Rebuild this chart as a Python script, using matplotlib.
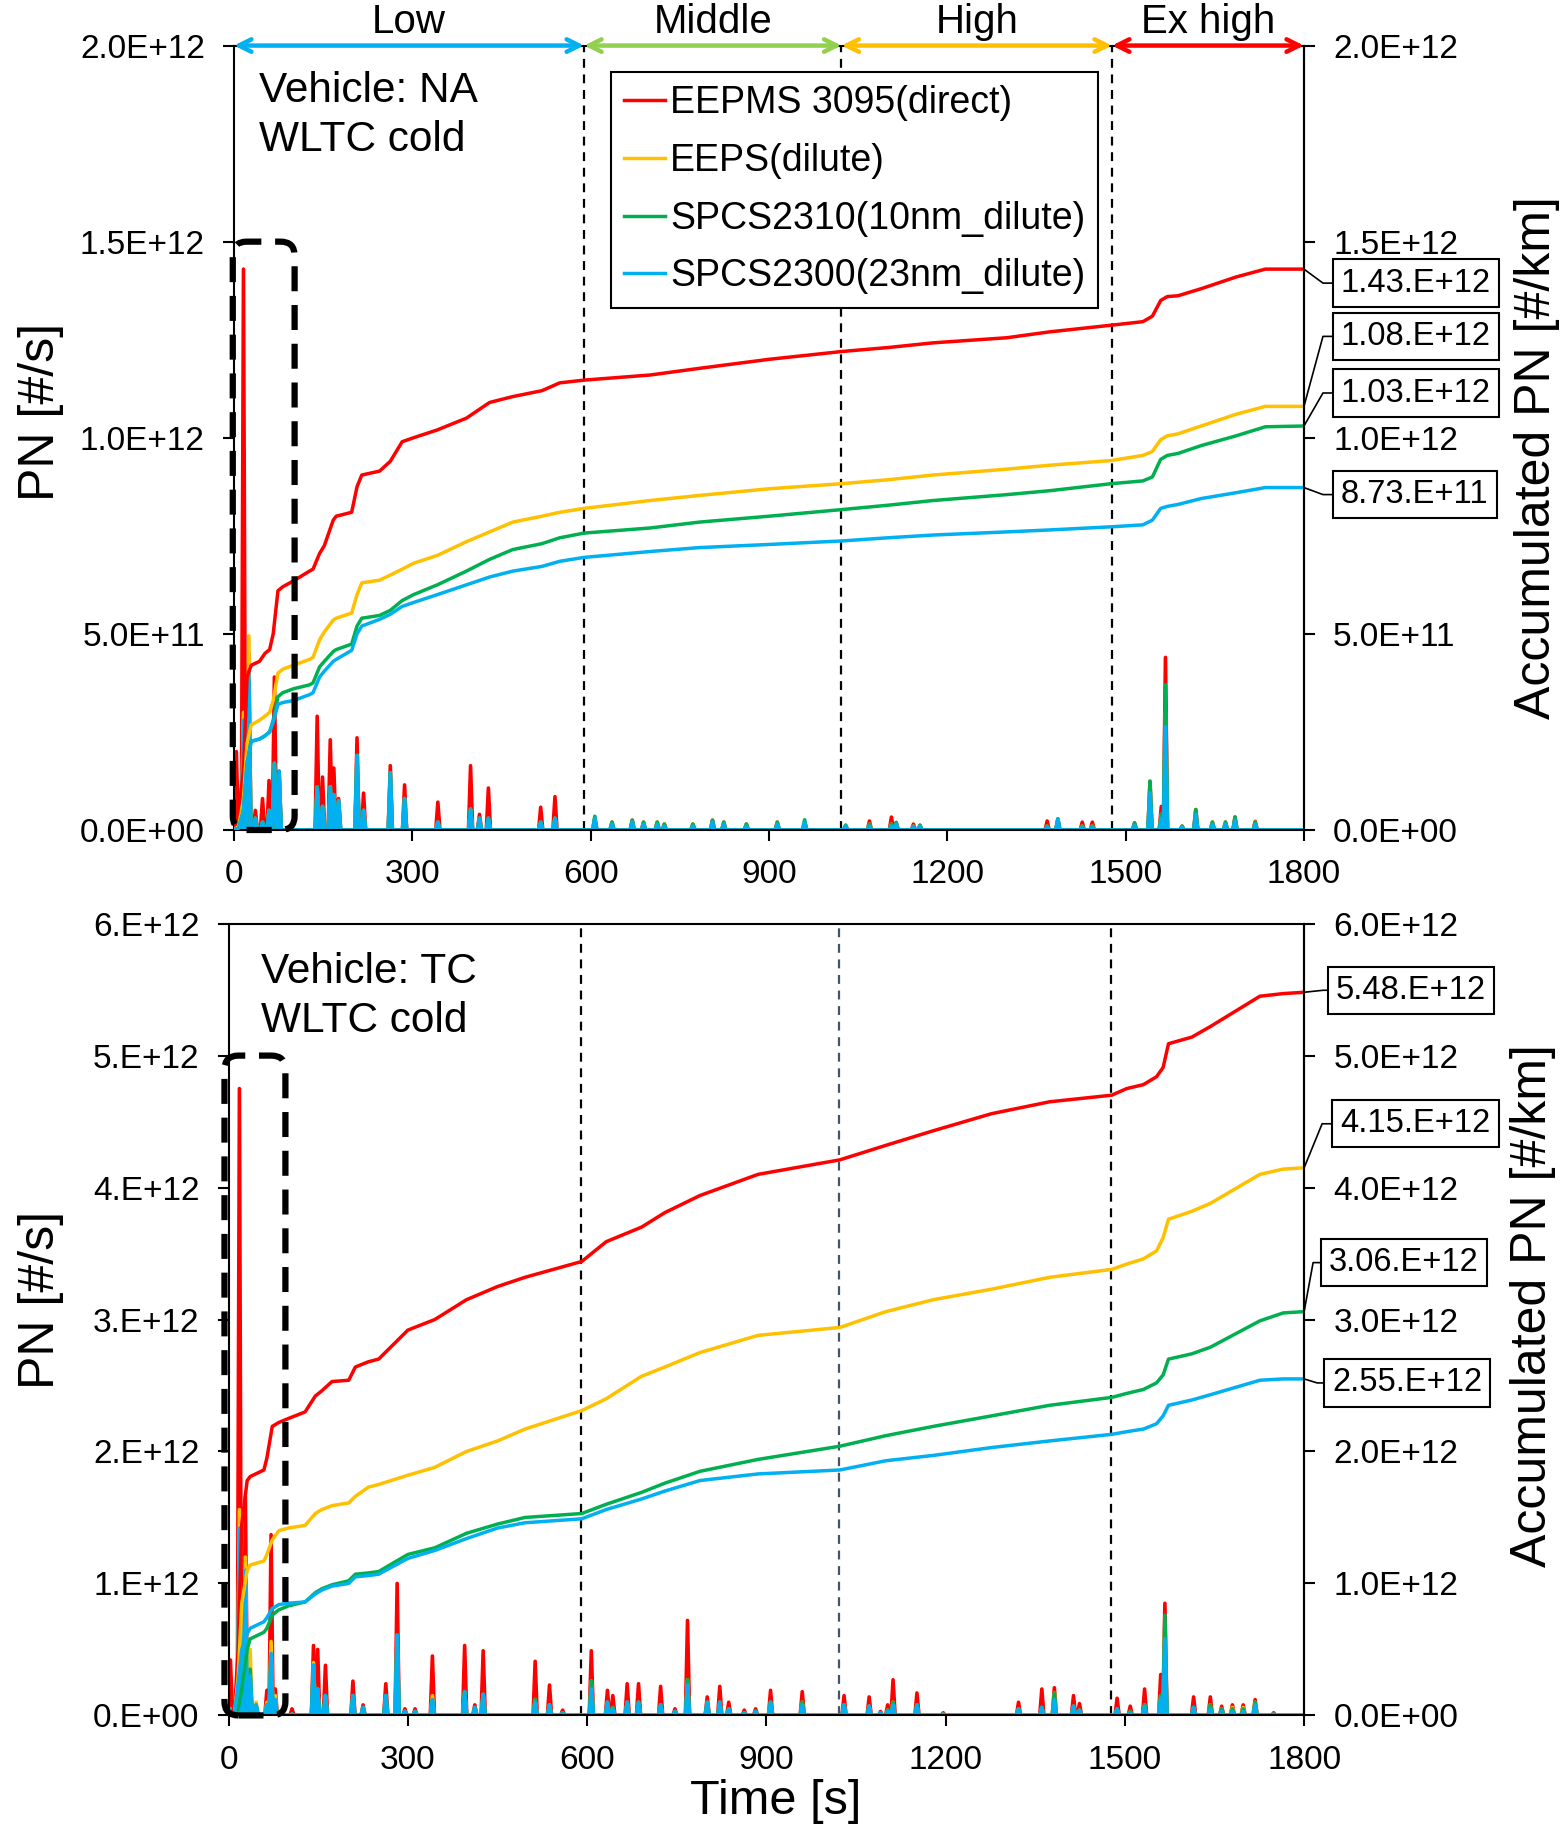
import numpy as np
import matplotlib
matplotlib.use("Agg")
import matplotlib.pyplot as plt
from matplotlib.patches import FancyBboxPatch
from matplotlib.lines import Line2D
from matplotlib.transforms import IdentityTransform, blended_transform_factory
from matplotlib.ticker import FuncFormatter, MultipleLocator

plt.rcParams['font.family'] = ['Liberation Sans', 'DejaVu Sans']

#************************************************
series_names = ['EEPMS 3095(direct)', 'EEPS(dilute)',
                'SPCS2310(10nm_dilute)', 'SPCS2300(23nm_dilute)']
series_colors = ['#FF0000', '#FFC000', '#00B050', '#00B0F0']

phase_names = ['Low', 'Middle', 'High', 'Ex high']
phase_bounds = [0, 589, 1022, 1477, 1800]
phase_colors = ['#00B0F0', '#92D050', '#FFC000', '#FF0000']
#************************************************

# Vehicle NA, accumulated PN [1E12 #/km]
na_cum_t = [0, 8, 16, 22, 29, 43, 52, 60, 66, 74,
            82, 100, 127, 133, 144, 152, 167, 172, 198, 207,
            215, 245, 263, 283, 302, 342, 391, 430, 469, 518,
            548, 589, 700, 783, 900, 1023, 1100, 1176, 1300, 1372,
            1476, 1529, 1545, 1559, 1570, 1588, 1627, 1686, 1735, 1800]
na_cum_red = [0, 0.05, 0.15, 0.39, 0.42, 0.43, 0.45, 0.46, 0.50, 0.61,
              0.62, 0.635, 0.66, 0.665, 0.705, 0.725, 0.79, 0.80, 0.81, 0.875,
              0.905, 0.915, 0.94, 0.99, 1.00, 1.02, 1.05, 1.09, 1.105, 1.12,
              1.14, 1.147, 1.16, 1.177, 1.20, 1.22, 1.23, 1.242, 1.255, 1.27,
              1.287, 1.296, 1.31, 1.35, 1.36, 1.362, 1.38, 1.41, 1.43, 1.43]
na_cum_yel = [0, 0.01, 0.08, 0.22, 0.268, 0.28, 0.29, 0.30, 0.33, 0.40,
              0.41, 0.42, 0.435, 0.44, 0.485, 0.505, 0.535, 0.54, 0.553, 0.60,
              0.63, 0.637, 0.65, 0.665, 0.68, 0.70, 0.735, 0.76, 0.785, 0.80,
              0.81, 0.82, 0.84, 0.853, 0.87, 0.883, 0.893, 0.905, 0.92, 0.93,
              0.942, 0.955, 0.965, 0.995, 1.005, 1.01, 1.03, 1.06, 1.08, 1.08]
na_cum_grn = [0, 0.005, 0.05, 0.17, 0.226, 0.232, 0.24, 0.25, 0.28, 0.34,
              0.35, 0.36, 0.37, 0.375, 0.416, 0.43, 0.455, 0.46, 0.474, 0.52,
              0.54, 0.547, 0.56, 0.585, 0.60, 0.625, 0.66, 0.69, 0.715, 0.73,
              0.745, 0.757, 0.77, 0.785, 0.80, 0.817, 0.828, 0.84, 0.855, 0.865,
              0.883, 0.89, 0.90, 0.945, 0.955, 0.96, 0.98, 1.005, 1.028, 1.03]
na_cum_blu = [0, 0.005, 0.05, 0.17, 0.226, 0.232, 0.24, 0.25, 0.275, 0.32,
              0.325, 0.33, 0.345, 0.35, 0.39, 0.405, 0.43, 0.435, 0.458, 0.50,
              0.52, 0.537, 0.55, 0.57, 0.58, 0.60, 0.625, 0.645, 0.66, 0.672,
              0.685, 0.695, 0.71, 0.72, 0.728, 0.737, 0.745, 0.752, 0.76, 0.765,
              0.773, 0.778, 0.79, 0.82, 0.825, 0.83, 0.845, 0.86, 0.873, 0.873]
na_end_labels = ['1.43.E+12', '1.08.E+12', '1.03.E+12', '8.73.E+11']

# Vehicle NA, PN peaks [1E12 #/s]
na_peak_t = [4, 16, 25, 36, 48, 59, 68, 76, 140, 149, 162, 168, 176, 207, 218,
             263, 287, 343, 398, 413, 428, 516, 540, 607, 636, 670, 689, 712,
             724, 772, 805, 824, 862, 914, 960, 1029, 1069, 1106, 1114, 1143,
             1154, 1368, 1386, 1427, 1444, 1515, 1541, 1560, 1567, 1595, 1618,
             1646, 1668, 1684, 1718]
na_peak_red = [0.20, 1.43, 0.45, 0.05, 0.08, 0.126, 0.39, 0.15, 0.29, 0.135,
               0.23, 0.158, 0.08, 0.235, 0.094, 0.164, 0.115, 0.071, 0.164, 0.04,
               0.107, 0.058, 0.085, 0.03, 0.02, 0.025, 0.02, 0.02, 0.015, 0.015,
               0.025, 0.02, 0.015, 0.02, 0.02, 0.012, 0.023, 0.033, 0.019, 0.015,
               0.012, 0.023, 0.028, 0.02, 0.02, 0.018, 0.123, 0.06, 0.44, 0.01,
               0.052, 0.02, 0.02, 0.033, 0.022]
na_peak_yel = [0.01, 0.30, 0.495, 0.03, 0.02, 0.05, 0.17, 0.14, 0.11, 0.06,
               0.11, 0.09, 0.075, 0.19, 0.05, 0.146, 0.08, 0.02, 0.053, 0.03,
               0.03, 0.02, 0.03, 0.03, 0.02, 0.02, 0.02, 0.02, 0.015, 0.015,
               0.02, 0.02, 0.015, 0.02, 0.02, 0.01, 0.015, 0.015, 0.015, 0.01,
               0.01, 0.01, 0.02, 0.01, 0.01, 0.015, 0.11, 0.04, 0.30, 0.01,
               0.045, 0.02, 0.02, 0.03, 0.02]
na_peak_grn = [0.01, 0.25, 0.38, 0.03, 0.02, 0.05, 0.17, 0.14, 0.11, 0.06,
               0.11, 0.09, 0.075, 0.19, 0.05, 0.146, 0.08, 0.02, 0.053, 0.03,
               0.03, 0.02, 0.03, 0.035, 0.02, 0.025, 0.02, 0.02, 0.015, 0.015,
               0.025, 0.02, 0.015, 0.02, 0.026, 0.012, 0.015, 0.015, 0.019, 0.01,
               0.012, 0.01, 0.028, 0.01, 0.01, 0.018, 0.125, 0.04, 0.37, 0.01,
               0.052, 0.02, 0.02, 0.033, 0.02]
na_peak_blu = [0.01, 0.28, 0.405, 0.03, 0.02, 0.05, 0.17, 0.15, 0.107, 0.06,
               0.11, 0.09, 0.075, 0.19, 0.05, 0.146, 0.08, 0.02, 0.053, 0.03,
               0.03, 0.02, 0.03, 0.03, 0.015, 0.02, 0.015, 0.015, 0.01, 0.01,
               0.02, 0.015, 0.01, 0.015, 0.02, 0.01, 0.01, 0.01, 0.015, 0.008,
               0.01, 0.008, 0.028, 0.008, 0.008, 0.012, 0.095, 0.03, 0.263, 0.008,
               0.04, 0.015, 0.015, 0.025, 0.015]

# Vehicle TC, accumulated PN [1E12 #/km]
tc_cum_t = [0, 10, 16, 22, 31, 36, 59, 64, 73, 84,
            100, 128, 145, 156, 173, 201, 212, 234, 251, 300,
            345, 398, 450, 496, 591, 632, 691, 730, 789, 886,
            1023, 1100, 1179, 1277, 1374, 1478, 1503, 1531, 1553, 1564,
            1573, 1612, 1643, 1726, 1765, 1800]
tc_cum_red = [0, 0.05, 0.5, 1.45, 1.78, 1.81, 1.86, 1.95, 2.19, 2.22,
              2.25, 2.30, 2.42, 2.46, 2.53, 2.54, 2.64, 2.68, 2.70, 2.92,
              3.00, 3.15, 3.25, 3.32, 3.44, 3.59, 3.70, 3.81, 3.94, 4.10,
              4.21, 4.32, 4.43, 4.56, 4.65, 4.70, 4.75, 4.78, 4.84, 4.91,
              5.09, 5.14, 5.22, 5.45, 5.47, 5.48]
tc_cum_yel = [0, 0.02, 0.3, 0.85, 1.10, 1.14, 1.17, 1.22, 1.33, 1.40,
              1.42, 1.44, 1.53, 1.56, 1.59, 1.61, 1.66, 1.73, 1.75, 1.82,
              1.88, 2.00, 2.08, 2.17, 2.31, 2.40, 2.57, 2.64, 2.75, 2.88,
              2.94, 3.06, 3.15, 3.23, 3.32, 3.38, 3.42, 3.46, 3.52, 3.62,
              3.76, 3.82, 3.88, 4.10, 4.14, 4.15]
tc_cum_grn = [0, 0.0, 0.05, 0.2, 0.5, 0.58, 0.63, 0.66, 0.76, 0.80,
              0.83, 0.86, 0.93, 0.96, 0.99, 1.02, 1.07, 1.08, 1.09, 1.22,
              1.27, 1.38, 1.45, 1.50, 1.53, 1.60, 1.69, 1.76, 1.85, 1.94,
              2.04, 2.12, 2.19, 2.27, 2.35, 2.41, 2.44, 2.47, 2.52, 2.58,
              2.70, 2.74, 2.79, 2.99, 3.05, 3.06]
tc_cum_blu = [0, 0.02, 0.25, 0.5, 0.62, 0.66, 0.71, 0.74, 0.81, 0.84,
              0.85, 0.86, 0.92, 0.95, 0.98, 1.00, 1.05, 1.06, 1.07, 1.19,
              1.25, 1.34, 1.42, 1.46, 1.49, 1.56, 1.64, 1.70, 1.78, 1.83,
              1.86, 1.93, 1.97, 2.03, 2.08, 2.13, 2.15, 2.17, 2.21, 2.27,
              2.35, 2.39, 2.43, 2.54, 2.55, 2.55]
tc_end_labels = ['5.48.E+12', '4.15.E+12', '3.06.E+12', '2.55.E+12']

# Vehicle TC, PN peaks [1E12 #/s]
tc_peak_t = [3, 18, 28, 36, 46, 64, 71, 78, 106, 142, 149, 162, 208, 225, 263,
             282, 295, 312, 341, 395, 412, 426, 513, 537, 559, 607, 634, 643,
             667, 686, 723, 747, 768, 801, 822, 837, 863, 882, 907, 960, 1030,
             1072, 1091, 1103, 1112, 1152, 1196, 1322, 1361, 1382, 1414, 1424,
             1487, 1509, 1533, 1560, 1567, 1615, 1643, 1662, 1680, 1698, 1718,
             1749]
tc_peak_red = [0.42, 4.75, 1.66, 0.30, 0.05, 0.19, 1.37, 0.20, 0.05, 0.53,
               0.50, 0.38, 0.26, 0.08, 0.24, 1.00, 0.05, 0.05, 0.45, 0.53,
               0.08, 0.49, 0.41, 0.23, 0.04, 0.49, 0.19, 0.15, 0.24, 0.24,
               0.22, 0.05, 0.72, 0.14, 0.22, 0.10, 0.04, 0.05, 0.19, 0.18,
               0.15, 0.14, 0.03, 0.08, 0.27, 0.17, 0.02, 0.10, 0.20, 0.21,
               0.15, 0.09, 0.13, 0.07, 0.20, 0.31, 0.85, 0.14, 0.14, 0.07,
               0.08, 0.08, 0.12, 0.02]
tc_peak_yel = [0.05, 1.56, 1.20, 0.50, 0.10, 0.10, 0.56, 0.15, 0.01, 0.40,
               0.20, 0.15, 0.15, 0.06, 0.15, 0.60, 0.03, 0.03, 0.15, 0.18,
               0.06, 0.16, 0.12, 0.08, 0.02, 0.26, 0.10, 0.06, 0.10, 0.10,
               0.08, 0.03, 0.27, 0.10, 0.10, 0.05, 0.02, 0.03, 0.10, 0.10,
               0.08, 0.07, 0.02, 0.04, 0.10, 0.08, 0.01, 0.05, 0.06, 0.17,
               0.07, 0.04, 0.05, 0.03, 0.08, 0.15, 0.70, 0.06, 0.08, 0.05,
               0.06, 0.06, 0.10, 0.01]
tc_peak_grn = [0.02, 0.45, 0.55, 0.35, 0.08, 0.08, 0.45, 0.12, 0.01, 0.38,
               0.20, 0.15, 0.15, 0.06, 0.15, 0.61, 0.03, 0.03, 0.12, 0.18,
               0.06, 0.16, 0.12, 0.08, 0.02, 0.26, 0.10, 0.06, 0.10, 0.10,
               0.08, 0.03, 0.27, 0.10, 0.10, 0.05, 0.02, 0.03, 0.10, 0.10,
               0.08, 0.07, 0.02, 0.04, 0.10, 0.08, 0.01, 0.05, 0.06, 0.17,
               0.07, 0.04, 0.05, 0.03, 0.08, 0.15, 0.76, 0.06, 0.08, 0.05,
               0.05, 0.05, 0.10, 0.01]
tc_peak_blu = [0.05, 1.42, 1.10, 0.30, 0.08, 0.08, 0.47, 0.12, 0.01, 0.38,
               0.20, 0.15, 0.15, 0.06, 0.15, 0.61, 0.03, 0.03, 0.12, 0.18,
               0.06, 0.16, 0.10, 0.08, 0.02, 0.20, 0.10, 0.05, 0.10, 0.10,
               0.08, 0.03, 0.23, 0.10, 0.10, 0.05, 0.02, 0.03, 0.10, 0.08,
               0.08, 0.07, 0.02, 0.03, 0.08, 0.08, 0.01, 0.05, 0.06, 0.12,
               0.07, 0.04, 0.05, 0.02, 0.07, 0.13, 0.58, 0.06, 0.05, 0.03,
               0.03, 0.03, 0.08, 0.01]

E12 = 1e12
DPI = 100


def spikes(peak_t, peak_v, hw=3.5):
    # instantaneous trace: each recorded peak with baseline either side
    t, v = [0.0], [0.0]
    for pt, pv in zip(peak_t, peak_v):
        t += [max(pt - hw, 0.0), pt, min(pt + hw, 1800.0)]
        v += [0.0, pv * E12, 0.0]
    t.append(1800.0)
    v.append(0.0)
    return t, v


def setup_panel(ax, ymax, ystep, left_fmt, right_fmt, mid_color):
    ax.set_xlim(0, 1800)
    ax.set_ylim(0, ymax)
    ax.xaxis.set_major_locator(MultipleLocator(300))
    ax.yaxis.set_major_locator(MultipleLocator(ystep))
    ax.yaxis.set_major_formatter(FuncFormatter(lambda v, p: format(v, left_fmt)))
    ax.tick_params(axis='both', direction='out', length=8, width=1.5,
                   labelsize=24, pad=13)
    for s in ax.spines.values():
        s.set_linewidth(1.5)
    axr = ax.twinx()
    axr.set_ylim(0, ymax)
    axr.yaxis.set_major_locator(MultipleLocator(ystep))
    axr.yaxis.set_major_formatter(FuncFormatter(lambda v, p: format(v, right_fmt)))
    axr.tick_params(axis='y', direction='out', length=8, width=1.5,
                    labelsize=24, pad=13)
    for side, s in axr.spines.items():
        s.set_linewidth(1.5)
        if side != 'right':
            s.set_visible(False)
    # phase boundaries
    for i, b in enumerate(phase_bounds[1:-1]):
        ax.axvline(b, color=mid_color if i == 1 else 'black', lw=1.6,
                   ls=(0, (4, 3)), zorder=1)
    return axr


def draw_series(ax, cum_t, cum_list, peak_t, peak_list):
    handles = []
    for vals, c in zip(peak_list, series_colors):
        t, v = spikes(peak_t, vals)
        ax.plot(t, v, color=c, lw=2.6, zorder=2)
    for vals, c, name in zip(cum_list, series_colors, series_names):
        h, = ax.plot(cum_t, np.array(vals) * E12, color=c, lw=2.5, zorder=3,
                     label=name)
        handles.append(h)
    return handles


def end_labels(fig, ax, cum_list, labels, offsets):
    # boxed final values with leader lines, offsets in figure pixels
    for vals, lab, (dxc, dxb, dy) in zip(cum_list, labels, offsets):
        x0, y0 = ax.transData.transform((1800, vals[-1] * E12))
        fig.add_artist(Line2D([x0, x0 + dxc, x0 + dxb + 6], [y0, y0 + dy, y0 + dy],
                              color='black', lw=1.2, transform=IdentityTransform(),
                              zorder=5))
        fig.text(x0 + dxb + 8, y0 + dy, lab, transform=IdentityTransform(),
                 ha='left', va='center', fontsize=23.5, zorder=6,
                 bbox=dict(boxstyle='square,pad=0.25', fc='white', ec='black', lw=1.5))


def dashed_box(ax, fig, x0, x1, y1, r_px=14):
    pos = ax.get_position()
    w_px = pos.width * fig.get_figwidth() * DPI
    h_px = pos.height * fig.get_figheight() * DPI
    xlo, xhi = ax.get_xlim()
    ylo, yhi = ax.get_ylim()
    xpp = (xhi - xlo) / w_px
    ypp = (yhi - ylo) / h_px
    box = FancyBboxPatch((x0, 0), x1 - x0, y1, transform=ax.transData,
                         boxstyle='round,pad=0,rounding_size=%f' % (r_px * xpp),
                         mutation_aspect=ypp / xpp, fill=False, ec='black',
                         lw=4.5, ls=(0, (4, 2.2)), clip_on=False, zorder=7)
    ax.add_patch(box)


fig = plt.figure(figsize=(15.65, 18.29), dpi=DPI)
ax1 = fig.add_axes([0.1495, 0.5462, 0.6837, 0.4289])
ax2 = fig.add_axes([0.1461, 0.0621, 0.6872, 0.4329])

# ---------------- top panel: vehicle NA ----------------
ax1r = setup_panel(ax1, 2.0 * E12, 0.5 * E12, '.1E', '.1E', 'black')
handles = draw_series(ax1, na_cum_t, [na_cum_red, na_cum_yel, na_cum_grn, na_cum_blu],
                      na_peak_t, [na_peak_red, na_peak_yel, na_peak_grn, na_peak_blu])

# phase arrows along the top, drawn on the twin axes so they sit above the frame
trans = blended_transform_factory(ax1.transData, ax1.transAxes)
for i, (name, c) in enumerate(zip(phase_names, phase_colors)):
    ax1r.annotate('', xy=(phase_bounds[i + 1], 2.0 * E12), xytext=(phase_bounds[i], 2.0 * E12),
                  arrowprops=dict(arrowstyle='<->,head_length=0.9,head_width=0.45',
                                  color=c, lw=3.2, shrinkA=0, shrinkB=0),
                  annotation_clip=False, zorder=8)
    ax1.text((phase_bounds[i] + phase_bounds[i + 1]) / 2, 1.016, name, transform=trans,
             ha='center', va='baseline', fontsize=29, clip_on=False)

ax1.text(0.0234, 0.968, 'Vehicle: NA\nWLTC cold', transform=ax1.transAxes,
         ha='left', va='top', fontsize=30.5, linespacing=1.3)

leg = ax1r.legend(handles=handles, loc='upper left',
                  bbox_to_anchor=(611 / 1565, 1 - 72 / 1829), bbox_transform=fig.transFigure,
                  fontsize=27, fancybox=False, edgecolor='black', framealpha=1,
                  borderaxespad=0, handlelength=1.1, handletextpad=0.12,
                  labelspacing=0.58, borderpad=0.35)
leg.get_frame().set_linewidth(1.5)
leg.set_zorder(9)

dashed_box(ax1, fig, -2, 102, 1.5 * E12)
end_labels(fig, ax1, [na_cum_red, na_cum_yel, na_cum_grn, na_cum_blu], na_end_labels,
           [(19, 29, -14), (19, 29, 70), (19, 29, 33), (19, 29, -7)])

# ---------------- bottom panel: vehicle TC ----------------
ax2r = setup_panel(ax2, 6.0 * E12, 1.0 * E12, '#.0E', '.1E', '#44546A')
draw_series(ax2, tc_cum_t, [tc_cum_red, tc_cum_yel, tc_cum_grn, tc_cum_blu],
            tc_peak_t, [tc_peak_red, tc_peak_yel, tc_peak_grn, tc_peak_blu])
ax2.text(0.030, 0.964, 'Vehicle: TC\nWLTC cold', transform=ax2.transAxes,
         ha='left', va='top', fontsize=30.5, linespacing=1.3)
dashed_box(ax2, fig, -7, 95, 5.0 * E12)
end_labels(fig, ax2, [tc_cum_red, tc_cum_yel, tc_cum_grn, tc_cum_blu], tc_end_labels,
           [(19, 24, 2), (18, 28, 44), (9, 17, 49), (13, 20, -4)])

# axis titles
fig.text(41 / 1565, 1 - 412 / 1829, 'PN [#/s]', rotation=90, ha='center', va='center', fontsize=36)
fig.text(41 / 1565, 1 - 1300 / 1829, 'PN [#/s]', rotation=90, ha='center', va='center', fontsize=36)
fig.text(1537 / 1565, 1 - 458 / 1829, 'Accumulated PN [#/km]', rotation=90,
         ha='center', va='center', fontsize=36)
fig.text(1533 / 1565, 1 - 1306 / 1829, 'Accumulated PN [#/km]', rotation=90,
         ha='center', va='center', fontsize=36)
fig.text(775.5 / 1565, 1 - 1802 / 1829, 'Time [s]', ha='center', va='center', fontsize=35)

fig.savefig('out.png', dpi=DPI)
